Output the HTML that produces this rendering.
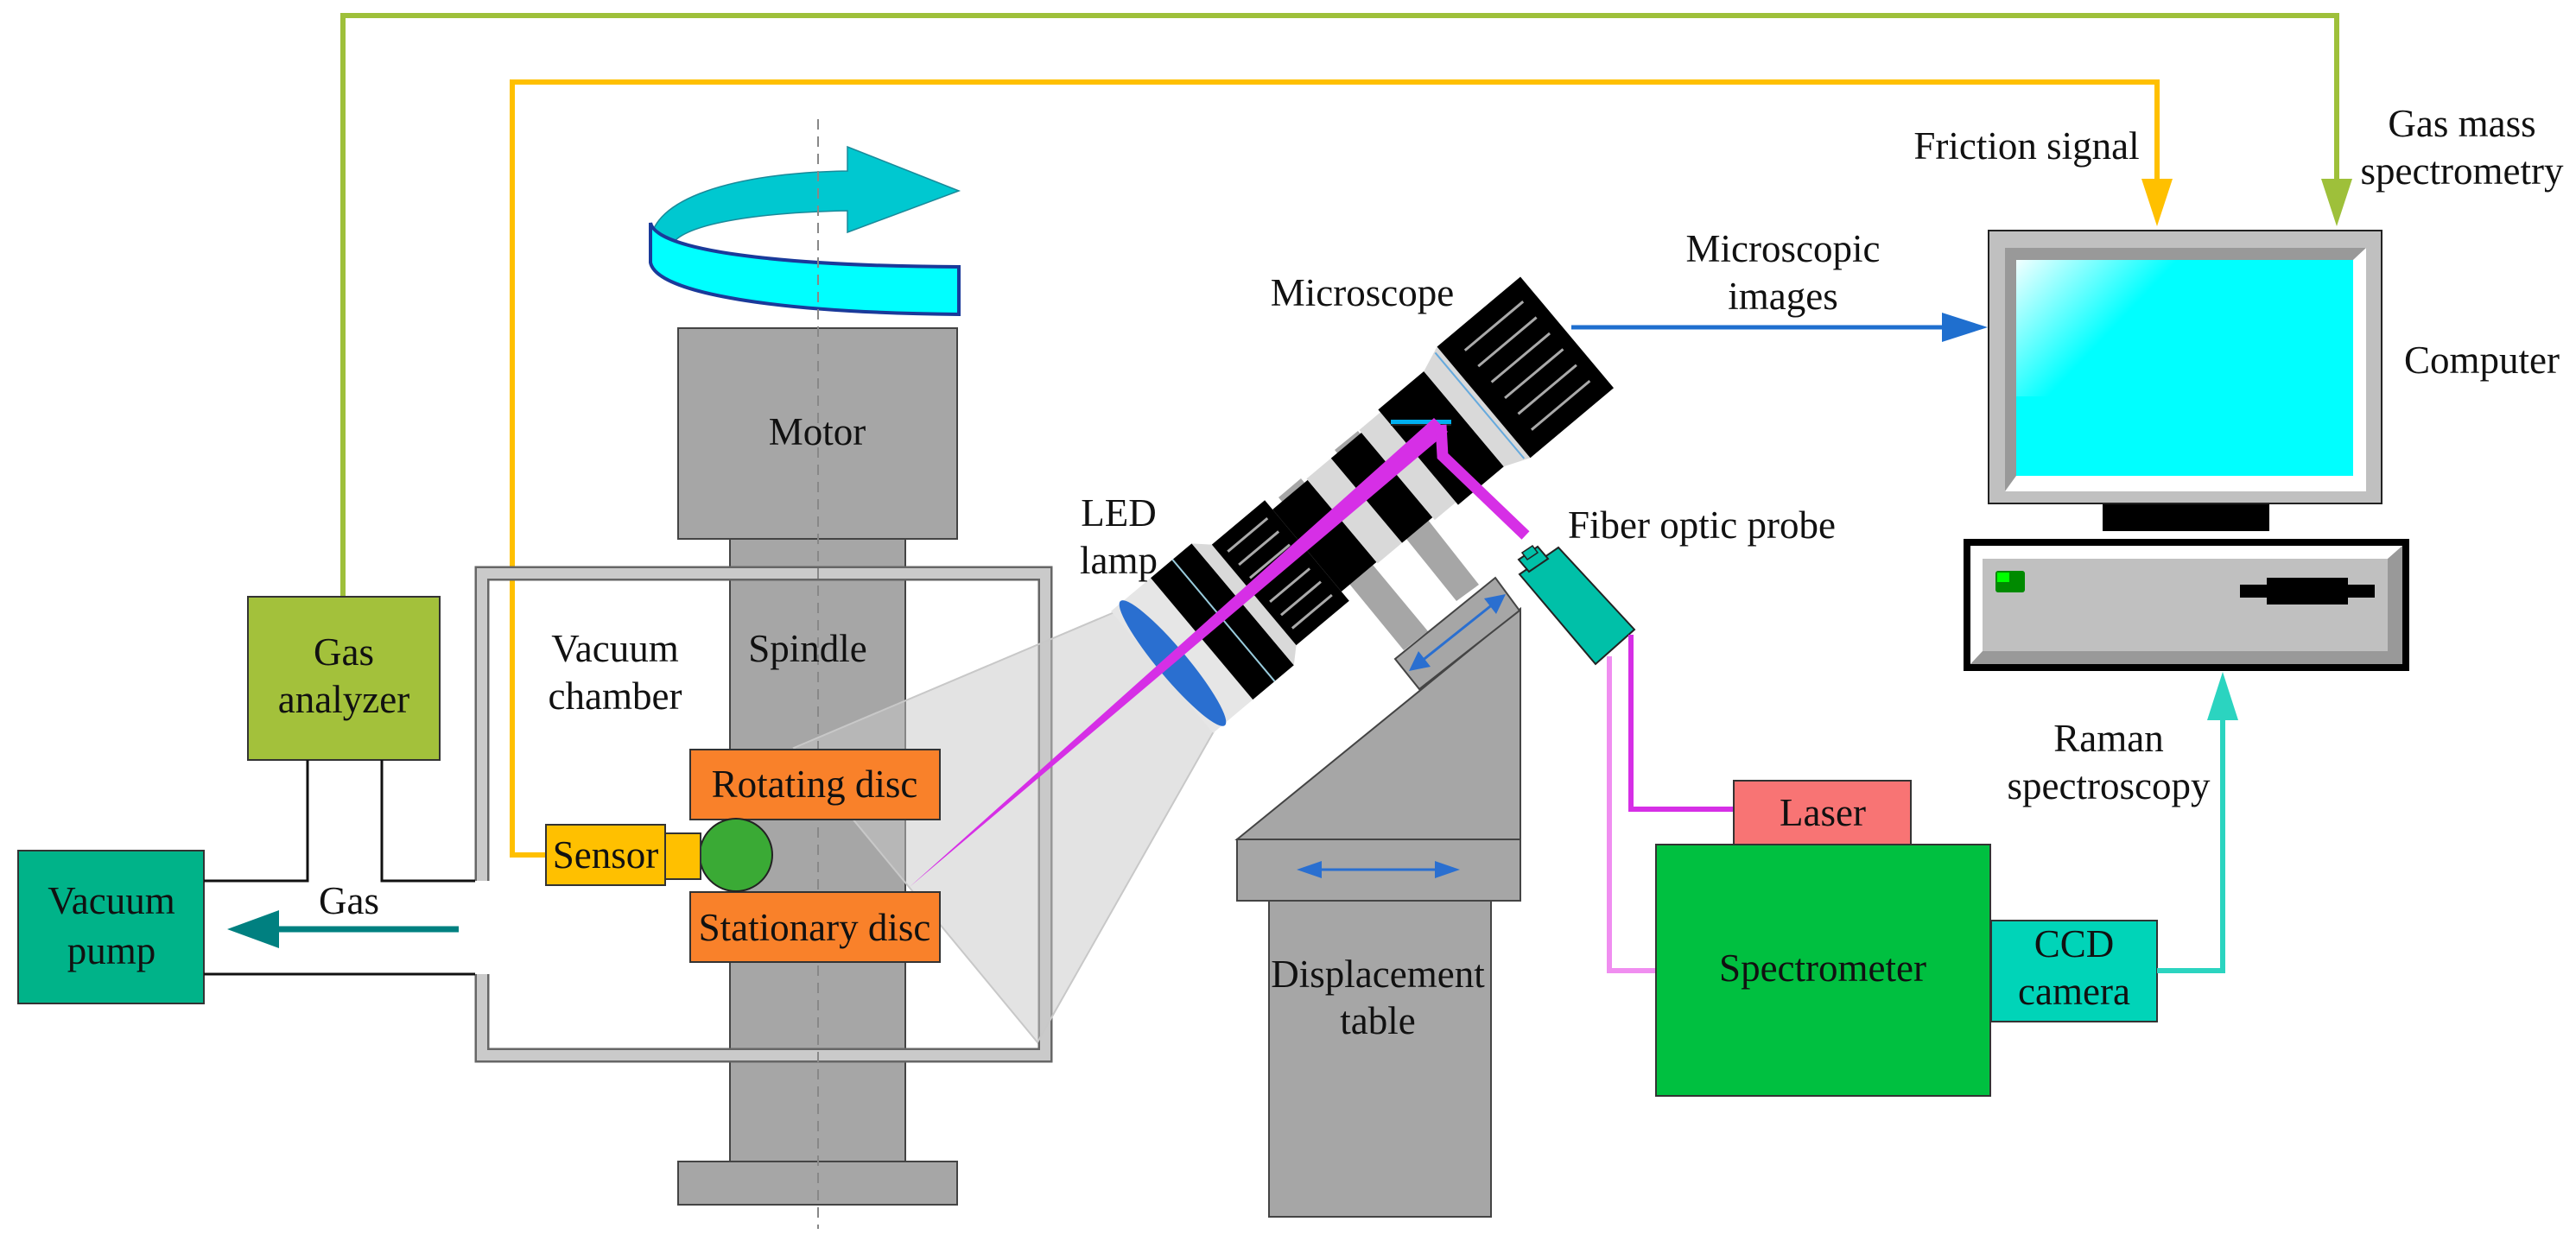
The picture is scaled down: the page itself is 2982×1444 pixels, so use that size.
<!DOCTYPE html>
<html><head><meta charset="utf-8"><style>
html,body{margin:0;padding:0;background:#fff}
svg{display:block}
text{font-family:"Liberation Serif","DejaVu Serif",serif;font-size:45px;fill:#111}
</style></head><body>
<svg width="2982" height="1444" viewBox="0 0 2982 1444" xmlns="http://www.w3.org/2000/svg" font-family="'Liberation Serif', 'DejaVu Serif', serif">
<defs>
<linearGradient id="scr" x1="0" y1="0" x2="1" y2="0.6">
<stop offset="0" stop-color="#fff"/><stop offset="0.55" stop-color="#00ffff"/><stop offset="1" stop-color="#00ffff"/>
</linearGradient>
</defs>

<!-- top connectors -->
<polyline points="397,691 397,18 2705,18 2705,215" fill="none" stroke="#9ec03a" stroke-width="6"/>
<polygon points="2687,207 2723,207 2705,262" fill="#9ec03a"/>
<polyline points="632,990 593,990 593,95 2497,95 2497,215" fill="none" stroke="#ffc000" stroke-width="6"/>
<polygon points="2479,207 2515,207 2497,262" fill="#ffc000"/>

<!-- rotation arrow -->
<path d="M753,282 C753,230 850,200 981,198 L981,170 L1110,221 L981,269 L981,244 C880,246 800,258 780,280 Z" fill="#00c8d0" stroke="#1a8a9a" stroke-width="1.5"/>
<path d="M753,258 C760,290 900,308 1110,309 L1110,364 C900,362 760,340 753,304 Z" fill="#00ffff" stroke="#1a3a9a" stroke-width="4"/>

<!-- motor / spindle -->
<rect x="845" y="624" width="203" height="721" fill="#a6a6a6" stroke="#444" stroke-width="2"/>
<rect x="785" y="380" width="323" height="244" fill="#a6a6a6" stroke="#444" stroke-width="2"/>
<rect x="785" y="1345" width="323" height="50" fill="#a6a6a6" stroke="#444" stroke-width="2"/>

<!-- vacuum chamber walls -->
<path d="M558,1128 L558,1222 L1210,1222 L1210,664 L558,664 L558,1020" fill="none" stroke="#666" stroke-width="17"/>
<path d="M558,1128 L558,1222 L1210,1222 L1210,664 L558,664 L558,1020" fill="none" stroke="#cacaca" stroke-width="12"/>

<!-- light cone -->
<polygon points="1297,706 919,866 1201,1207 1409,840" fill="rgba(200,200,200,0.5)" stroke="#c8c8c8" stroke-width="2"/>

<!-- dashed axis -->
<line x1="947" y1="138" x2="947" y2="1423" stroke="#888" stroke-width="2" stroke-dasharray="12,8"/>

<!-- discs, sensor -->
<rect x="799" y="868" width="289" height="81" fill="#f9812a" stroke="#333" stroke-width="2"/>
<rect x="799" y="1033" width="289" height="81" fill="#f9812a" stroke="#333" stroke-width="2"/>
<circle cx="852" cy="990" r="42" fill="#3aaa35" stroke="#222" stroke-width="2"/>
<rect x="632" y="955" width="138" height="70" fill="#ffc000" stroke="#333" stroke-width="2"/>
<rect x="770" y="965" width="41" height="53" fill="#ffc000" stroke="#333" stroke-width="2"/>

<!-- gas analyzer / pump -->
<rect x="287" y="691" width="222" height="189" fill="#a3c13b" stroke="#333" stroke-width="2"/>
<rect x="21" y="985" width="215" height="177" fill="#00b389" stroke="#333" stroke-width="2"/>
<polyline points="356,880 356,1020 236,1020" fill="none" stroke="#111" stroke-width="3"/>
<polyline points="442,880 442,1020 550,1020" fill="none" stroke="#111" stroke-width="3"/>
<line x1="236" y1="1128" x2="550" y2="1128" stroke="#111" stroke-width="3"/>
<line x1="531" y1="1076" x2="315" y2="1076" stroke="#008080" stroke-width="7"/>
<polygon points="263,1076 323,1054 323,1098" fill="#008080"/>

<!-- displacement table -->
<rect x="1469" y="1043" width="257" height="366" fill="#a6a6a6" stroke="#444" stroke-width="2"/>
<rect x="1432" y="972" width="328" height="71" fill="#a6a6a6" stroke="#444" stroke-width="2"/>
<polygon points="1432,972 1760,705 1760,972" fill="#a6a6a6" stroke="#444" stroke-width="2"/>
<line x1="1520" y1="1007" x2="1672" y2="1007" stroke="#2a6fd0" stroke-width="3"/>
<polygon points="1501,1007 1530,997 1530,1017" fill="#2a6fd0"/>
<polygon points="1690,1007 1661,997 1661,1017" fill="#2a6fd0"/>

<!-- arms & slider -->
<polygon points="1545,521 1572,499 1712,677 1686,696" fill="#a6a6a6"/>
<polygon points="1480,576 1506,554 1653,731 1625,753" fill="#a6a6a6"/>
<polygon points="1615,763 1731,669 1759,707 1643,798" fill="#a6a6a6" stroke="#444" stroke-width="2"/>
<line x1="1645" y1="766" x2="1729" y2="699" stroke="#2a6fd0" stroke-width="3"/>
<polygon points="1631,777 1642,754 1656,772" fill="#2a6fd0"/>
<polygon points="1743,688 1718,693 1732,711" fill="#2a6fd0"/>

<!-- microscope -->
<g transform="translate(1765,426) rotate(-40)">
<rect x="-548" y="-92" width="60" height="184" fill="#e6e6e6"/>
<ellipse cx="-532" cy="0" rx="17" ry="94" fill="#2a6fd0"/>
<rect x="-488" y="-92" width="62" height="184" fill="#000"/>
<line x1="-455" y1="-92" x2="-455" y2="92" stroke="#9cd" stroke-width="2"/>
<polygon points="-426,-92 -409,-76 -409,76 -426,92" fill="#d9d9d9"/>
<rect x="-409" y="-76" width="80" height="152" fill="#000"/>
<g stroke="#aaa" stroke-width="3">
<line x1="-400" y1="-58" x2="-340" y2="-58"/><line x1="-400" y1="-38" x2="-340" y2="-38"/><line x1="-400" y1="-18" x2="-340" y2="-18"/>
<line x1="-400" y1="18" x2="-340" y2="18"/><line x1="-400" y1="38" x2="-340" y2="38"/><line x1="-400" y1="58" x2="-340" y2="58"/>
</g>
<rect x="-329" y="-62" width="53" height="124" fill="#000"/>
<rect x="-276" y="-64" width="37" height="128" fill="#d9d9d9"/>
<rect x="-239" y="-64" width="46" height="128" fill="#000"/>
<rect x="-193" y="-68" width="32" height="136" fill="#d9d9d9"/>
<rect x="-161" y="-72" width="69" height="144" fill="#000"/>
<polygon points="-92,-72 -62,-84 -62,84 -92,72" fill="#d9d9d9"/>
<line x1="-68" y1="-80" x2="-68" y2="80" stroke="#6ad" stroke-width="2"/>
<rect x="-62" y="-84" width="126" height="168" fill="#000"/>
<g stroke="#aaa" stroke-width="3">
<line x1="-40" y1="-60" x2="48" y2="-60"/><line x1="-40" y1="-36" x2="48" y2="-36"/><line x1="-40" y1="-12" x2="48" y2="-12"/>
<line x1="-40" y1="12" x2="48" y2="12"/><line x1="-40" y1="36" x2="48" y2="36"/><line x1="-40" y1="60" x2="48" y2="60"/>
</g>
</g>
<!-- mirror -->
<rect x="1610" y="486" width="70" height="5" fill="#00b0f0"/>
<rect x="1610" y="491" width="70" height="2" fill="#222"/>
<!-- laser beams -->
<polygon points="1053,1027 1660,484 1676,500" fill="#d62fe6"/>
<polyline points="1668,492 1670,528 1766,620" fill="none" stroke="#d62fe6" stroke-width="13"/>

<!-- fiber probe -->
<polygon points="1759,665 1804,634 1892,729 1847,769" fill="#00c0a8" stroke="#222" stroke-width="2"/>
<polygon points="1758,648 1780,633 1792,647 1770,662" fill="#00c0a8" stroke="#222" stroke-width="2"/>
<polygon points="1762,640 1774,632 1780,640 1768,648" fill="#00c0a8" stroke="#222" stroke-width="1.5"/>
<polyline points="1888,735 1888,937 2007,937" fill="none" stroke="#d62fe6" stroke-width="6"/>
<polyline points="1863,760 1863,1124 1917,1124" fill="none" stroke="#f08ef0" stroke-width="6"/>

<!-- spectrometer etc -->
<rect x="2007" y="904" width="205" height="74" fill="#f87474" stroke="#333" stroke-width="2"/>
<rect x="1917" y="978" width="387" height="291" fill="#00c040" stroke="#333" stroke-width="2"/>
<rect x="2305" y="1066" width="192" height="117" fill="#00d4b8" stroke="#333" stroke-width="2"/>
<polyline points="2497,1124 2573,1124 2573,830" fill="none" stroke="#2bd4c0" stroke-width="6"/>
<polygon points="2555,834 2591,834 2573,778" fill="#2bd4c0"/>

<!-- blue arrow -->
<line x1="1819" y1="379" x2="2255" y2="379" stroke="#1f6fcf" stroke-width="5"/>
<polygon points="2301,379 2248,362 2248,396" fill="#1f6fcf"/>

<!-- monitor -->
<rect x="2302" y="267" width="455" height="316" fill="#c0c0c0" stroke="#222" stroke-width="2"/>
<polygon points="2321,287 2739,287 2724,301 2334,301 2334,551 2321,569" fill="#999"/>
<polygon points="2739,287 2739,569 2321,569 2334,551 2724,551 2724,301" fill="#fff"/>
<rect x="2334" y="301" width="390" height="250" fill="#00ffff"/>
<rect x="2334" y="301" width="250" height="158" fill="url(#scr)" opacity="0.95"/>
<rect x="2434" y="584" width="193" height="31" fill="#000"/>
<!-- case -->
<rect x="2273" y="624" width="516" height="153" fill="#000"/>
<rect x="2281" y="632" width="500" height="137" fill="#999"/>
<polygon points="2281,632 2781,632 2764,647 2295,647 2295,754 2281,769" fill="#fff"/>
<rect x="2295" y="647" width="469" height="107" fill="#c0c0c0"/>
<rect x="2310" y="661" width="34" height="25" rx="3" fill="#008a00"/>
<rect x="2312" y="663" width="14" height="11" fill="#00ff00"/>
<rect x="2593" y="677" width="156" height="15" fill="#000"/>
<rect x="2624" y="669" width="94" height="31" fill="#000"/>

<!-- labels -->
<g text-anchor="middle" dominant-baseline="central" font-family="'Liberation Serif', 'DejaVu Serif', serif" font-size="45" style="font-family:'Liberation Serif','DejaVu Serif',serif">
<text x="946" y="500">Motor</text>
<text x="712" y="751">Vacuum</text>
<text x="712" y="806">chamber</text>
<text x="935" y="751">Spindle</text>
<text x="398" y="755">Gas</text>
<text x="398" y="810">analyzer</text>
<text x="129" y="1043">Vacuum</text>
<text x="129" y="1101">pump</text>
<text x="404" y="1043">Gas</text>
<text x="943" y="908">Rotating disc</text>
<text x="943" y="1074">Stationary disc</text>
<text x="701" y="990">Sensor</text>
<text x="1295" y="594">LED</text>
<text x="1295" y="649">lamp</text>
<text x="1577" y="339">Microscope</text>
<text x="2064" y="288">Microscopic</text>
<text x="2064" y="343">images</text>
<text x="2346" y="169">Friction signal</text>
<text x="2850" y="143">Gas mass</text>
<text x="2850" y="198">spectrometry</text>
<text x="2873" y="417">Computer</text>
<text x="1970" y="608">Fiber optic probe</text>
<text x="2110" y="941">Laser</text>
<text x="2110" y="1121">Spectrometer</text>
<text x="2401" y="1093">CCD</text>
<text x="2401" y="1148">camera</text>
<text x="2441" y="855">Raman</text>
<text x="2441" y="910">spectroscopy</text>
<text x="1595" y="1128">Displacement</text>
<text x="1595" y="1182">table</text>
</g>
</svg>
</body></html>
